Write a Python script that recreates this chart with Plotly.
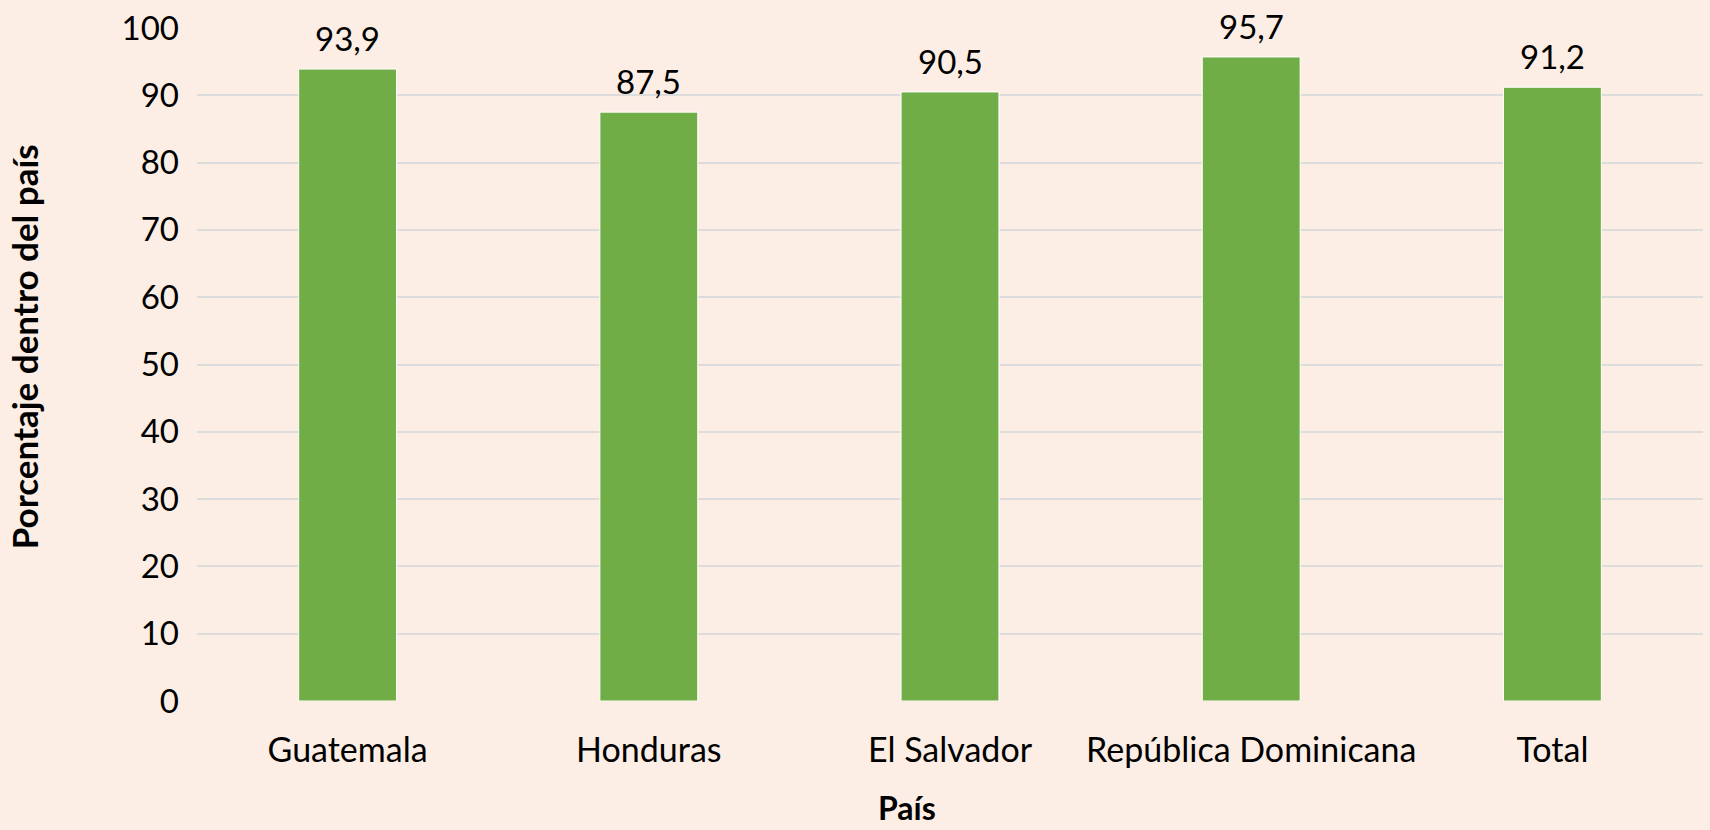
import plotly.graph_objects as go

paises = ["Guatemala", "Honduras", "El Salvador", "República Dominicana", "Total"]
porcentajes = [93.9, 87.5, 90.5, 95.7, 91.2]
etiquetas = [f"{v:.1f}".replace(".", ",") for v in porcentajes]
y_ticks = list(range(0, 101, 10))

bg = "#FCEEE4"
font_family = "Lato, 'Open Sans', sans-serif"

fig = go.Figure()
fig.add_trace(go.Bar(
    x=paises, y=porcentajes,
    marker=dict(color="#70AD47", line=dict(color="white", width=1)),
    hoverinfo="skip",
))
for p, v, t in zip(paises, porcentajes, etiquetas):
    fig.add_annotation(x=p, y=v, text=t, showarrow=False, yanchor="bottom",
                       yshift=9, font=dict(size=33, color="#000000", family=font_family))

# axis titles as annotations (positioned like the original)
fig.add_annotation(text="<b>Porcentaje dentro del país</b>", xref="paper", yref="paper",
                   x=-0.1149, y=0.527, xanchor="center", yanchor="middle", textangle=-90,
                   showarrow=False, font=dict(size=35, color="#000000", family=font_family))
fig.add_annotation(text="<b>País</b>", xref="paper", yref="paper",
                   x=0.4714, y=-0.1893, xanchor="center", yanchor="bottom", borderpad=0,
                   showarrow=False, font=dict(size=32, color="#000000", family=font_family))

fig.update_layout(
    width=1710, height=830,
    paper_bgcolor=bg, plot_bgcolor=bg,
    margin=dict(l=197, r=7, t=25, b=129),
    bargap=0.675,
    showlegend=False,
    font=dict(family=font_family, color="#000000"),
    xaxis=dict(
        showgrid=False, showline=False, zeroline=False,
        tickfont=dict(size=34), ticks="", ticklabelstandoff=26,
    ),
    yaxis=dict(
        range=[0, 100], tickvals=y_ticks, showgrid=True, gridcolor="#DCDCDC",
        gridwidth=1.5, zeroline=False, showline=False,
        tickfont=dict(size=33), ticks="", ticklabelstandoff=17,
    ),
)
fig.write_html("out.html", config={"displayModeBar": False},
               post_script="document.body.style.margin='0';document.body.style.background='%s';" % bg)
